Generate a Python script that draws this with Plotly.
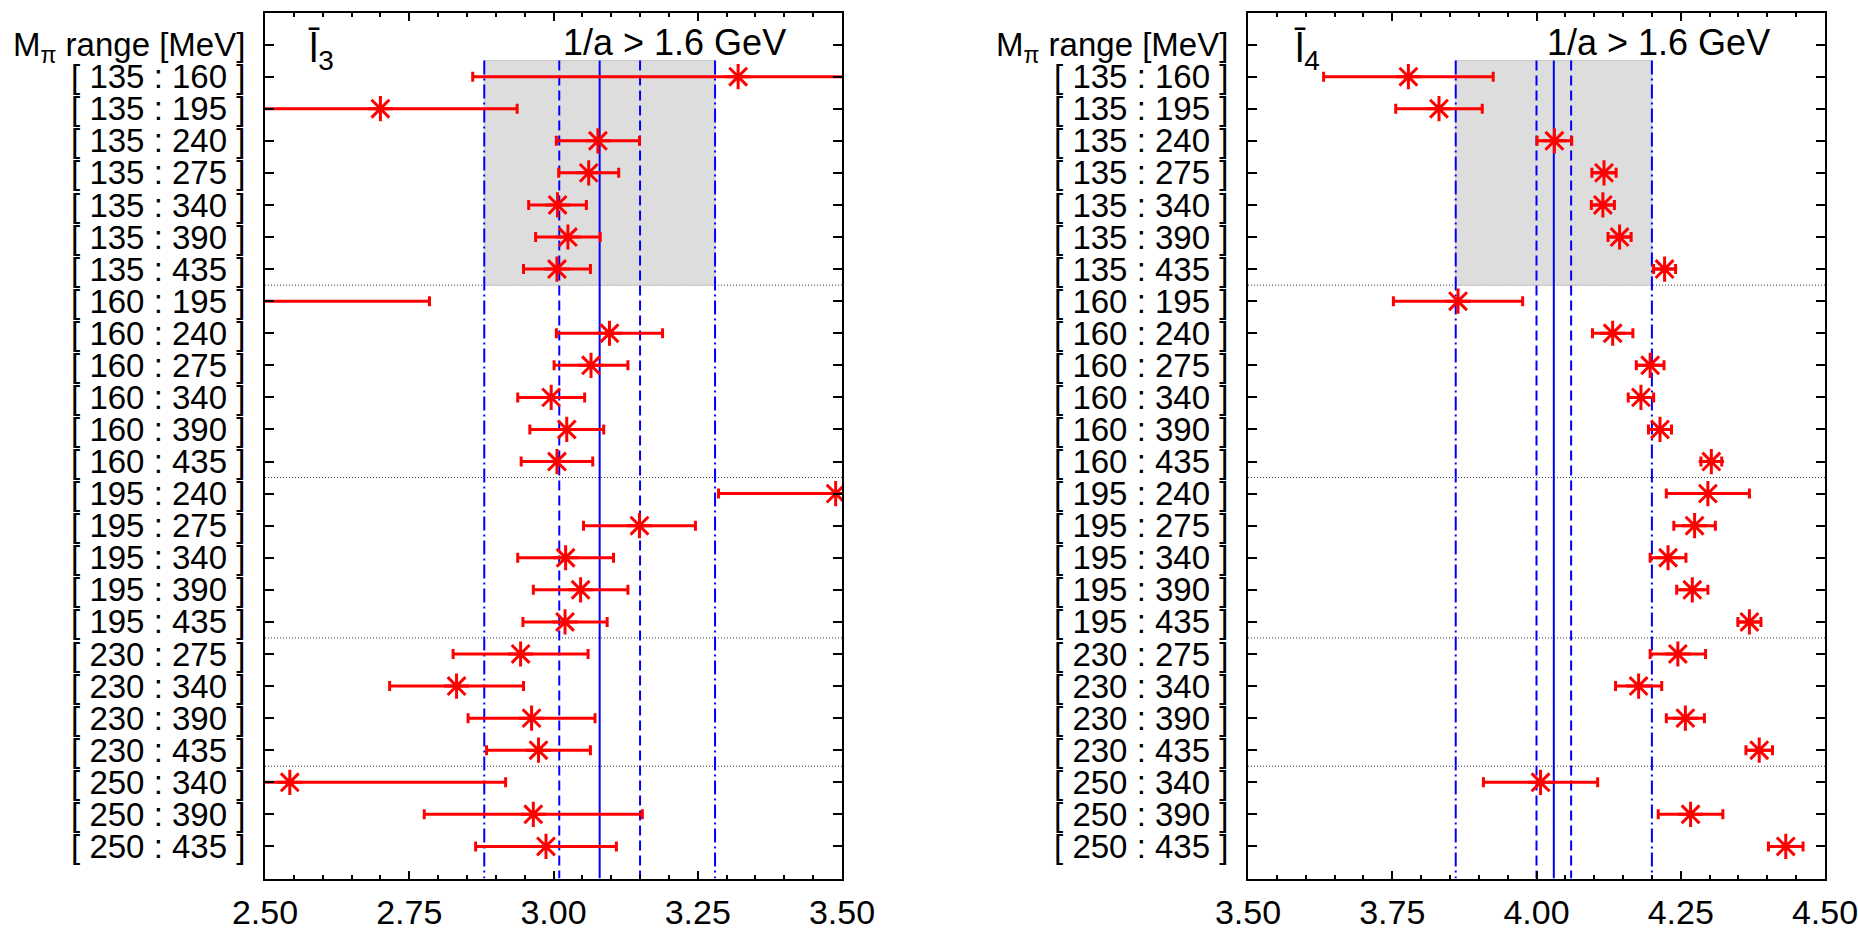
import plotly.graph_objects as go

# ---------------- data ----------------
row_labels = [
    "[ 135 : 160 ]", "[ 135 : 195 ]", "[ 135 : 240 ]", "[ 135 : 275 ]", "[ 135 : 340 ]",
    "[ 135 : 390 ]", "[ 135 : 435 ]", "[ 160 : 195 ]", "[ 160 : 240 ]", "[ 160 : 275 ]",
    "[ 160 : 340 ]", "[ 160 : 390 ]", "[ 160 : 435 ]", "[ 195 : 240 ]", "[ 195 : 275 ]",
    "[ 195 : 340 ]", "[ 195 : 390 ]", "[ 195 : 435 ]", "[ 230 : 275 ]", "[ 230 : 340 ]",
    "[ 230 : 390 ]", "[ 230 : 435 ]", "[ 250 : 340 ]", "[ 250 : 390 ]", "[ 250 : 435 ]",
]
header_label = "M<sub>π</sub> range [MeV]"

l3_val = [3.32, 2.70, 3.077, 3.061, 3.007, 3.025, 3.006, 2.40, 3.097, 3.065,
          2.996, 3.023, 3.006, 3.489, 3.149, 3.021, 3.047, 3.020, 2.943, 2.832,
          2.962, 2.974, 2.543, 2.965, 2.987]
l3_err = [0.46, 0.237, 0.072, 0.052, 0.050, 0.056, 0.058, 0.385, 0.092, 0.064,
          0.058, 0.064, 0.062, 0.203, 0.097, 0.083, 0.082, 0.073, 0.117, 0.116,
          0.110, 0.090, 0.374, 0.189, 0.122]

l4_val = [3.778, 3.831, 4.031, 4.117, 4.115, 4.144, 4.222, 3.864, 4.132, 4.197,
          4.181, 4.214, 4.303, 4.297, 4.274, 4.228, 4.270, 4.369, 4.245, 4.177,
          4.258, 4.386, 4.007, 4.267, 4.432]
l4_err = [0.147, 0.075, 0.030, 0.021, 0.020, 0.020, 0.019, 0.112, 0.035, 0.024,
          0.022, 0.020, 0.018, 0.072, 0.036, 0.031, 0.027, 0.020, 0.048, 0.040,
          0.033, 0.023, 0.099, 0.056, 0.030]

# final results (central, stat, total) for 1/a > 1.6 GeV
l3_band = dict(center=3.08, stat=0.07, total=0.20)
l4_band = dict(center=4.03, stat=0.03, total=0.17)

group_breaks = [7.5, 13.5, 18.5, 22.5]
shade_rows = (0.5, 7.5)

l3_range = [2.5, 3.5]
l4_range = [3.5, 4.5]
tick_vals_x = [2.50, 2.75, 3.00, 3.25, 3.50]
tick_vals_x2 = [3.50, 3.75, 4.00, 4.25, 4.50]

# ---------------- figure ----------------
FONT = "Liberation Sans, Arial, sans-serif"
RED = "#ff0000"
BLUE = "#0000ff"

rows = list(range(1, len(row_labels) + 1))
y_tickvals = [0] + rows
y_ticktext = [header_label] + row_labels

fig = go.Figure()

for vals, errs, xa, ya in [(l3_val, l3_err, "x", "y"), (l4_val, l4_err, "x2", "y2")]:
    fig.add_trace(go.Scatter(
        x=vals, y=rows, xaxis=xa, yaxis=ya, mode="markers",
        marker=dict(symbol="asterisk-open", size=21, color=RED,
                    line=dict(color=RED, width=3)),
        error_x=dict(type="data", array=errs, symmetric=True, color=RED,
                     thickness=3, width=5),
        showlegend=False, hoverinfo="x+y",
    ))

shapes = []
for band, xr, yr in [(l3_band, "x", "y"), (l4_band, "x2", "y2")]:
    c, s, t = band["center"], band["stat"], band["total"]
    shapes.append(dict(type="rect", xref=xr, yref=yr, x0=c - t, x1=c + t,
                       y0=shade_rows[0], y1=shade_rows[1], fillcolor="#dddddd",
                       line=dict(color="#c8c8c8", width=1), layer="below"))
    shapes.append(dict(type="line", xref=xr, yref=yr, x0=c, x1=c, y0=shade_rows[0], y1=26,
                       line=dict(color=BLUE, width=2), layer="below"))
    for xv in (c - s, c + s):
        shapes.append(dict(type="line", xref=xr, yref=yr, x0=xv, x1=xv, y0=shade_rows[0], y1=26,
                           line=dict(color=BLUE, width=2, dash="10px,5px"), layer="below"))
    for xv in (c - t, c + t):
        shapes.append(dict(type="line", xref=xr, yref=yr, x0=xv, x1=xv, y0=shade_rows[0], y1=26,
                           line=dict(color=BLUE, width=2, dash="14px,4px,2px,4px"), layer="below"))
    for yb in group_breaks:
        shapes.append(dict(type="line", xref=xr + " domain", yref=yr, x0=0, x1=1, y0=yb, y1=yb,
                           line=dict(color="#333333", width=1, dash="1px,2px"), layer="below"))

annotations = [
    dict(x=2.571, y=0.2, xref="x", yref="y", text="l̄<sub>3</sub>", showarrow=False,
         xanchor="left", yanchor="middle", font=dict(size=40, family=FONT, color="black")),
    dict(x=3.576, y=0.2, xref="x2", yref="y2", text="l̄<sub>4</sub>", showarrow=False,
         xanchor="left", yanchor="middle", font=dict(size=40, family=FONT, color="black")),
    dict(x=3.21, y=-0.05, xref="x", yref="y", text="1/a > 1.6 GeV", showarrow=False,
         xanchor="center", yanchor="middle", font=dict(size=36, family=FONT, color="black")),
    dict(x=4.212, y=-0.05, xref="x2", yref="y2", text="1/a > 1.6 GeV", showarrow=False,
         xanchor="center", yanchor="middle", font=dict(size=36, family=FONT, color="black")),
]

xaxis_common = dict(
    showgrid=False, zeroline=False, showline=True, linecolor="black", linewidth=2,
    mirror="ticks", ticks="inside", ticklen=8, tickwidth=1.5, tickcolor="black",
    minor=dict(ticks="inside", dtick=0.05, ticklen=4, tickwidth=1.5, tickcolor="black",
               showgrid=False),
    tickformat=".2f", tickfont=dict(size=34, family=FONT, color="black"),
    ticklabelstandoff=3, automargin=False, ticklabeloverflow="allow",
)
yaxis_common = dict(
    showgrid=False, zeroline=False, showline=True, linecolor="black", linewidth=2,
    mirror="ticks", ticks="inside", ticklen=9, tickwidth=1.5, tickcolor="black",
    tickvals=y_tickvals, ticktext=y_ticktext, range=[26, -1],
    tickfont=dict(size=33, family=FONT, color="black"), ticklabelstandoff=11,
    automargin=False, ticklabeloverflow="allow",
)

dom_y = [1 - 878.5 / 929, 1 - 12.5 / 929]
fig.update_layout(
    template="none",
    width=1858, height=929,
    margin=dict(l=0, r=0, t=0, b=0, autoexpand=False),
    paper_bgcolor="white", plot_bgcolor="white",
    font=dict(family=FONT, color="black"),
    xaxis=dict(xaxis_common, domain=[265 / 1858, 842 / 1858], range=l3_range,
               tickvals=tick_vals_x, anchor="y"),
    yaxis=dict(yaxis_common, domain=dom_y, anchor="x"),
    xaxis2=dict(xaxis_common, domain=[1248 / 1858, 1825 / 1858], range=l4_range,
                tickvals=tick_vals_x2, anchor="y2"),
    yaxis2=dict(yaxis_common, domain=dom_y, anchor="x2"),
    shapes=shapes,
    annotations=annotations,
)

fig.write_html("out.html")
